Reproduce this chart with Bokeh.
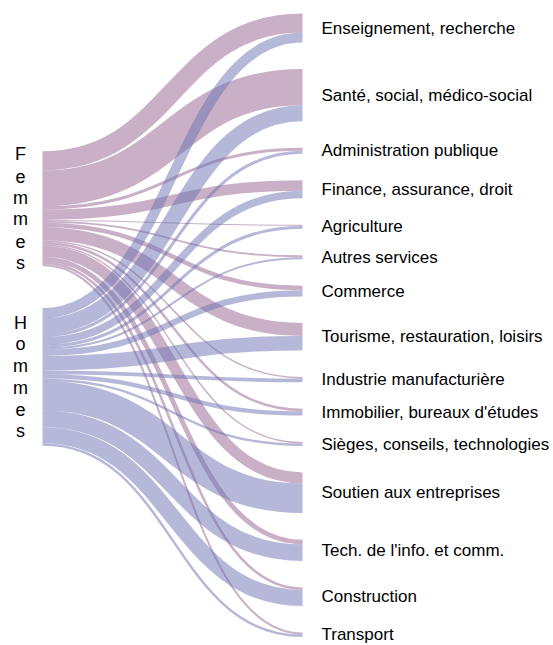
from bokeh.plotting import figure
from bokeh.models import Range1d, ColumnDataSource
from bokeh.embed import file_html
from bokeh.resources import INLINE
from bokeh.core.properties import value

# ---------------- data ----------------
sectors = [
    "Enseignement, recherche",
    "Santé, social, médico-social",
    "Administration publique",
    "Finance, assurance, droit",
    "Agriculture",
    "Autres services",
    "Commerce",
    "Tourisme, restauration, loisirs",
    "Industrie manufacturière",
    "Immobilier, bureaux d'études",
    "Sièges, conseils, technologies",
    "Soutien aux entreprises",
    "Tech. de l'info. et comm.",
    "Construction",
    "Transport",
]
femmes = [19.0, 36.0, 3.0, 10.5, 1.0, 1.8, 4.5, 13.0, 1.5, 2.5, 1.4, 11.0, 4.8, 2.5, 2.0]
hommes = [10.0, 16.0, 3.0, 7.5, 3.0, 2.0, 6.2, 14.5, 3.8, 4.3, 2.4, 29.5, 16.5, 16.0, 2.5]
sexes = ["Femmes", "Hommes"]

# ---------------- layout ----------------
W, H = 553, 645
X_LEFT, X_RIGHT = 42.0, 302.0
RIGHT_TOP, RIGHT_BOTTOM = 13.0, 636.5
PAD = 26.5
FEM_TOP = 150.7
LEFT_GAP = 42.0
LABEL_DX = 19
LETTER_X = 20
LETTER_STEP = 21.7

PINK = "#93618f"
BLUE = "#6b71b1"
ALPHA = 0.5

n = len(sectors)
total = sum(femmes) + sum(hommes)
ky = (RIGHT_BOTTOM - RIGHT_TOP - (n - 1) * PAD) / total

# right nodes
right_y0 = []
y = RIGHT_TOP
for f, h in zip(femmes, hommes):
    right_y0.append(y)
    y += (f + h) * ky + PAD
right_centers = [y0 + (f + h) * ky / 2 for y0, f, h in zip(right_y0, femmes, hommes)]

# left nodes
fem_h = sum(femmes) * ky
hom_h = sum(hommes) * ky
left_tops = [FEM_TOP, FEM_TOP + fem_h + LEFT_GAP]
left_centers = [left_tops[0] + fem_h / 2, left_tops[1] + hom_h / 2]

xm = (X_LEFT + X_RIGHT) / 2


def links(values, left_top, right_offset_fn):
    d = dict(x0=[], y0=[], x1=[], y1=[], cx0=[], cy0=[], cx1=[], cy1=[], w=[])
    ly = left_top
    for i, v in enumerate(values):
        w = v * ky
        sy = ly + w / 2
        ry = right_offset_fn(i) + w / 2
        ly += w
        d["x0"].append(X_LEFT); d["y0"].append(sy)
        d["x1"].append(X_RIGHT); d["y1"].append(ry)
        d["cx0"].append(xm); d["cy0"].append(sy)
        d["cx1"].append(xm); d["cy1"].append(ry)
        d["w"].append(w)
    return ColumnDataSource(d)


src_f = links(femmes, left_tops[0], lambda i: right_y0[i])
src_h = links(hommes, left_tops[1], lambda i: right_y0[i] + femmes[i] * ky)

p = figure(width=W, height=H, output_backend="svg", toolbar_location=None,
           x_range=Range1d(0, W), y_range=Range1d(H, 0),
           x_axis_location=None, y_axis_location=None, min_border=0)
p.grid.visible = False
p.outline_line_color = None
p.background_fill_color = "white"

for src, col in ((src_f, PINK), (src_h, BLUE)):
    p.bezier(x0="x0", y0="y0", x1="x1", y1="y1", cx0="cx0", cy0="cy0",
             cx1="cx1", cy1="cy1", line_width="w", line_color=col,
             line_alpha=ALPHA, line_cap="butt", source=src)

# sector labels
p.text(x=[X_RIGHT + LABEL_DX] * n, y=right_centers, text=sectors,
       text_align="left", text_baseline="middle",
       text_font=value("Liberation Sans"), text_font_size="17px", text_color="black")

# vertical sex labels
lx, ly_, lt = [], [], []
for name, c in zip(sexes, left_centers):
    k = len(name)
    for j, ch in enumerate(name):
        lx.append(LETTER_X)
        ly_.append(c + (j - (k - 1) / 2) * LETTER_STEP)
        lt.append(ch)
p.text(x=lx, y=ly_, text=lt, text_align="center", text_baseline="middle",
       text_font=value("Liberation Sans"), text_font_size="18px", text_color="black")

open("out.html", "w").write(file_html(p, INLINE))
